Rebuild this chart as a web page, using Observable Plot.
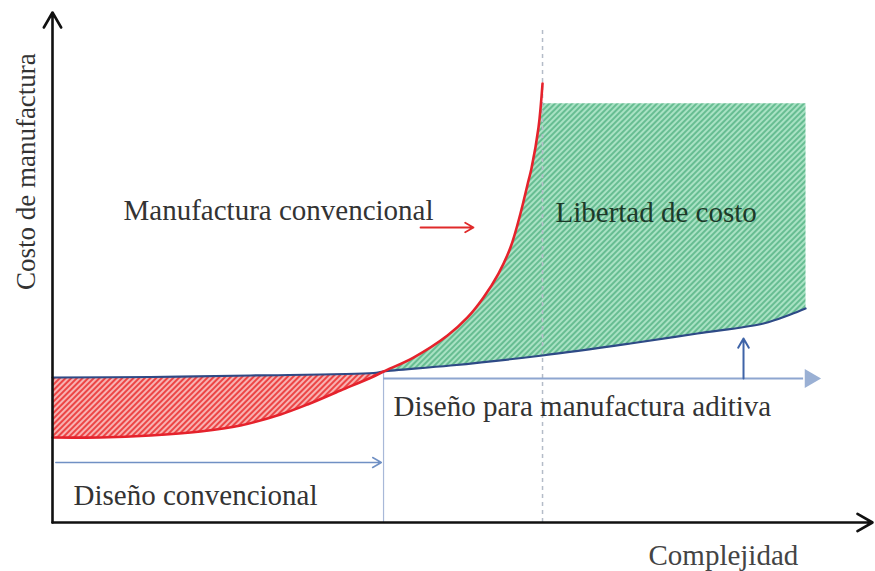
<!DOCTYPE html>
<html>
<head>
<meta charset="utf-8">
<script src="https://cdn.jsdelivr.net/npm/d3@7"></script>
<script src="https://cdn.jsdelivr.net/npm/@observablehq/plot@0.6"></script>
<style>
  html, body { margin: 0; padding: 0; background: #fff; }
  #chart svg { display: block; }
</style>
</head>
<body>
<div id="chart"></div>
<script>
// ---- Data (conceptual units: complexity 0..100, cost 0..100) ----
const redComplexity = [0, 5.85, 11.95, 18.05, 22.93, 27.8, 31.1, 35.12, 39.15, 40.37, 44.02, 48.17, 50.61, 52.56, 54.39, 55.85, 57.07, 58.05, 58.41, 59.27, 59.76];
const redCost       = [16.67, 16.67, 17.06, 17.84, 19.02, 21.18, 23.14, 25.88, 28.63, 29.61, 32.35, 36.67, 40.2, 44.12, 48.82, 53.92, 60.59, 67.06, 69.41, 77.45, 86.08];

const blueComplexity = [0, 11.95, 24.15, 39.15, 40.37, 48.54, 59.76, 70.49, 78.66, 86.71, 90.0, 91.83];
const blueCost       = [28.43, 28.53, 28.82, 29.31, 29.61, 30.78, 32.75, 35.1, 37.06, 39.02, 40.78, 41.96];

const crossComplexity = 40.37;   // where both curves meet
const crossCost = 29.61;
const freedomTop = 82.2;         // top of "Libertad de costo" region
const freedomLeft = 59.6;
const dashedComplexity = 59.76;  // dashed vertical guide
const dashedTop = 96.5;

const conventionalArrow = {x1: 0.4, x2: 40.1, y: 11.76};
const additiveArrow = {x1: 40.37, x2: 91.6, y: 28.24, head: 92.4};
const upArrow = {x: 84.27, y1: 28.24, y2: 36.1};
const redArrow = {x1: 44.88, x2: 51.34, y: 57.84};

const labels = [
  {text: "Manufactura convencional", x: 8.66, y: 61.18, fill: "#333333"},
  {text: "Libertad de costo", x: 61.34, y: 60.78, fill: "#1d3a2a"},
  {text: "Diseño para manufactura aditiva", x: 41.59, y: 22.75, fill: "#333333"},
  {text: "Diseño convencional", x: 2.56, y: 5.29, fill: "#333333"},
  {text: "Complejidad", x: 72.68, y: -6.47, fill: "#444444"}
];
const yLabel = {text: "Costo de manufactura", x: -3.17, y: 68.8};

// ---- Derived tables ----
const red = redComplexity.map((x, i) => ({x, y: redCost[i]}));
const blue = blueComplexity.map((x, i) => ({x, y: blueCost[i]}));

const redRegion = [
  ...blue.filter(d => d.x <= crossComplexity),
  ...red.filter(d => d.x <= crossComplexity).reverse()
];
const blueEnd = blue[blue.length - 1];
const greenRegion = [
  ...red.filter(d => d.x >= crossComplexity && d.y <= freedomTop),
  {x: freedomLeft, y: freedomTop},
  {x: blueEnd.x, y: freedomTop},
  ...blue.filter(d => d.x >= crossComplexity).reverse()
];

const FONT = "'Liberation Serif', 'DejaVu Serif', serif";
const FS = 29;

const chart = Plot.plot({
  width: 875,
  height: 571,
  marginLeft: 52,
  marginRight: 3,
  marginTop: 12,
  marginBottom: 49,
  x: {domain: [0, 100], axis: null},
  y: {domain: [0, 100], axis: null},
  style: {background: "#ffffff", fontFamily: FONT},
  marks: [
    // filled regions
    Plot.line(redRegion, {x: "x", y: "y", fill: "url(#hatchRed)", stroke: "none", curve: "linear"}),
    Plot.line(greenRegion, {x: "x", y: "y", fill: "url(#hatchGreen)", stroke: "none", curve: "linear"}),
    // guides
    Plot.ruleX([crossComplexity], {y1: 0, y2: crossCost, stroke: "#a8b8d8", strokeWidth: 1.2}),
    Plot.ruleX([dashedComplexity], {y1: 0, y2: dashedTop, stroke: "#b4bcc8", strokeWidth: 1.5, strokeDasharray: "4,4"}),
    // curves
    Plot.line(blue, {x: "x", y: "y", stroke: "#2e4a86", strokeWidth: 2.2, curve: "catmull-rom"}),
    Plot.line(red, {x: "x", y: "y", stroke: "#e5222c", strokeWidth: 2.6, curve: "catmull-rom"}),
    // design arrows
    Plot.arrow([conventionalArrow], {x1: "x1", x2: "x2", y1: "y", y2: "y", stroke: "#7090c4", strokeWidth: 1.5, headLength: 10}),
    Plot.ruleY([additiveArrow], {x1: "x1", x2: "x2", y: "y", stroke: "#8ea6d0", strokeWidth: 2}),
    Plot.dot([additiveArrow], {x: "head", y: "y", symbol: "triangle", r: 7, rotate: 90, fill: "#9ab0d4", stroke: "none"}),
    Plot.arrow([upArrow], {x1: "x", x2: "x", y1: "y1", y2: "y2", stroke: "#3f64a8", strokeWidth: 2, headLength: 8}),
    Plot.arrow([redArrow], {x1: "x1", x2: "x2", y1: "y", y2: "y", stroke: "#e02a2a", strokeWidth: 1.8, headLength: 8}),
    // axes
    Plot.arrow([{x1: 0, y1: 0, x2: 0, y2: 100}], {x1: "x1", y1: "y1", x2: "x2", y2: "y2", stroke: "#111", strokeWidth: 2.6, headLength: 10}),
    Plot.arrow([{x1: 0, y1: 0, x2: 100, y2: 0}], {x1: "x1", y1: "y1", x2: "x2", y2: "y2", stroke: "#111", strokeWidth: 2.6, headLength: 10}),
    // text
    Plot.text(labels, {x: "x", y: "y", text: "text", fill: "fill", textAnchor: "start", fontSize: FS, fontFamily: FONT}),
    Plot.text([yLabel], {x: "x", y: "y", text: "text", rotate: -90, fill: "#333333", fontSize: 27, fontFamily: FONT})
  ]
});

// hatch patterns
const ns = "http://www.w3.org/2000/svg";
const defs = document.createElementNS(ns, "defs");
defs.innerHTML = `
  <pattern id="hatchRed" width="4" height="4" patternUnits="userSpaceOnUse" patternTransform="rotate(45)">
    <rect width="4" height="4" fill="#f8b2b2"/>
    <rect width="2" height="4" fill="#ec4545"/>
  </pattern>
  <pattern id="hatchGreen" width="4" height="4" patternUnits="userSpaceOnUse" patternTransform="rotate(45)">
    <rect width="4" height="4" fill="#a9e2c4"/>
    <rect width="2" height="4" fill="#67bd92"/>
  </pattern>`;
chart.insertBefore(defs, chart.firstChild);

document.getElementById("chart").appendChild(chart);
</script>
</body>
</html>
